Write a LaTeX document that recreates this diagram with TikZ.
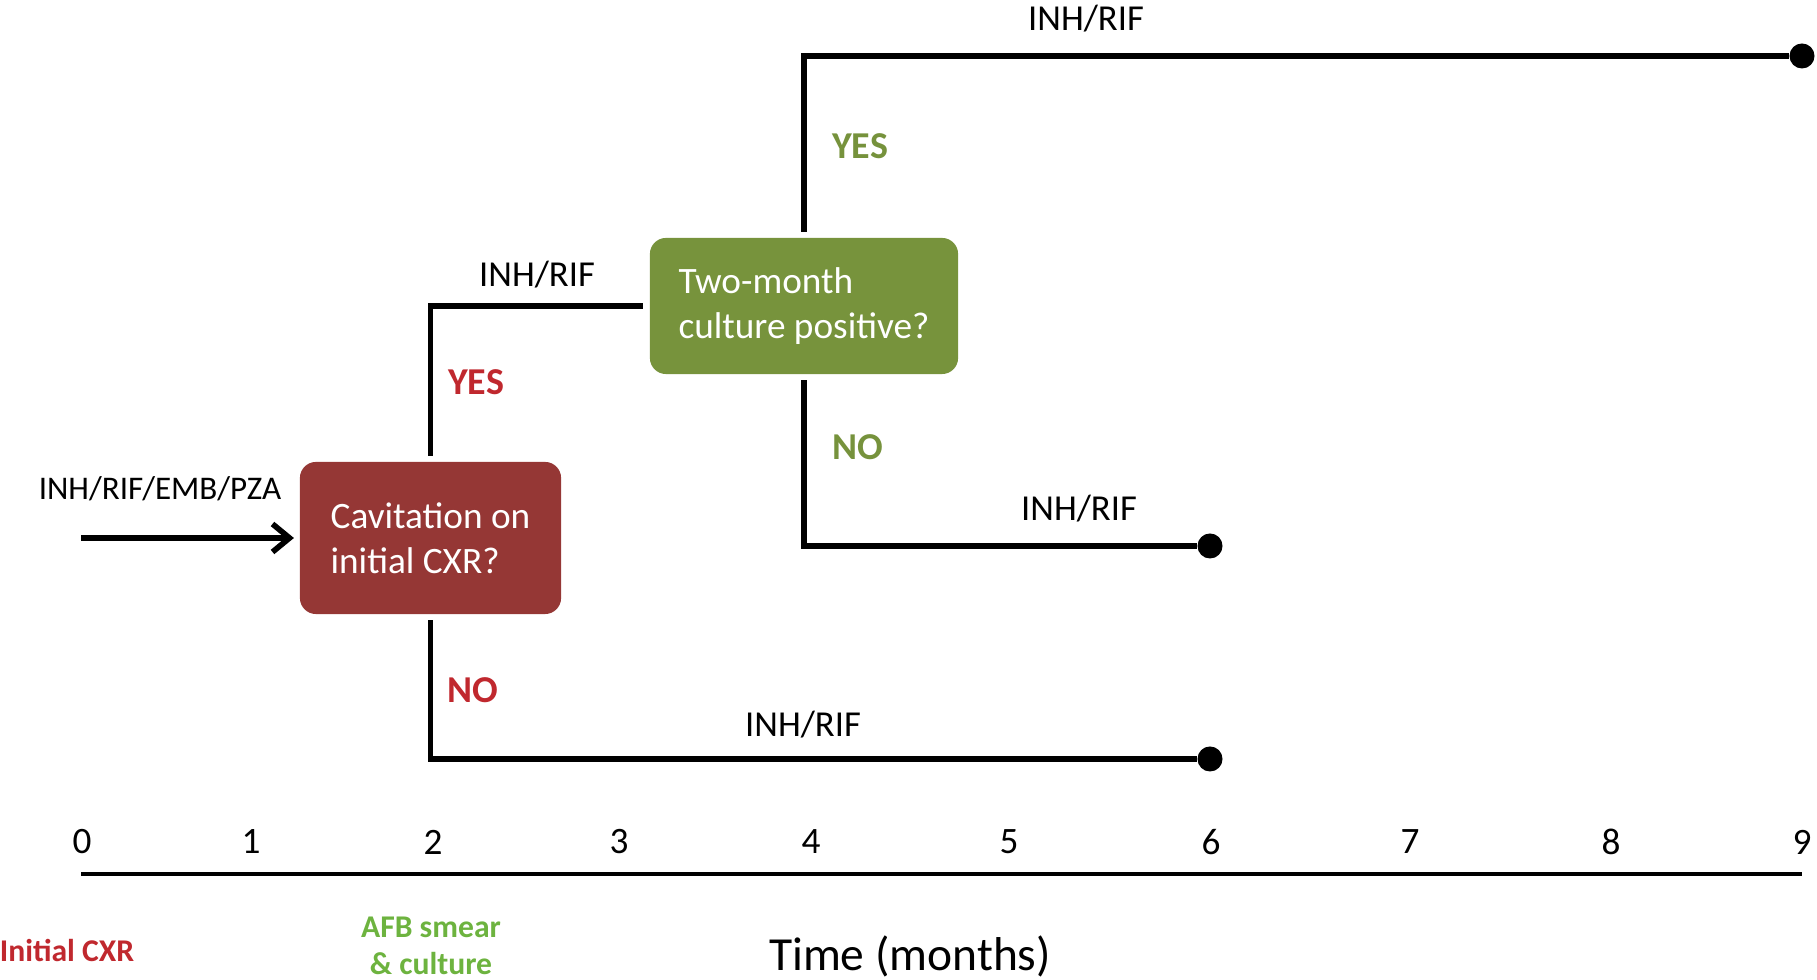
\documentclass[tikz,border=0pt]{standalone}
\usepackage{fontspec}
\setmainfont{Carlito}
\usetikzlibrary{arrows.meta,calc}
\definecolor{boxred}{HTML}{953735}
\definecolor{boxgreen}{HTML}{77933C}
\definecolor{txtred}{HTML}{C0282E}
\definecolor{txtgreen}{HTML}{76923C}
\definecolor{lightgreen}{HTML}{6DB33F}
\begin{document}
\begin{tikzpicture}[%
    x=0.01cm,y=-0.01cm,%
    branch/.style={line width=1.45pt},%
    decision/.style={rounded corners=0.16cm,text=white,align=left,%
      inner sep=0pt,font=\fontsize{10.6}{12.8}\selectfont},%
    drug/.style={font=\fontsize{10.4}{12}\selectfont},%
    answer/.style={font=\fontsize{10.8}{12}\selectfont\bfseries},%
    enddot/.style={circle,fill=black,inner sep=0pt,minimum size=0.25cm},%
    tick/.style={font=\fontsize{10.6}{12}\selectfont}%
  ]
  \useasboundingbox (0,0) rectangle (1817,980);

  %
  % Boites de decision
  %
  \node[decision,fill=boxred,minimum width=2.61cm,minimum height=1.52cm]
    (cav) at (430.5,538) {Cavitation on\\initial CXR?};
  \node[decision,fill=boxgreen,minimum width=3.08cm,minimum height=1.36cm]
    (cult) at (804,306) {Two-month\\culture positive?};

  %
  % Fins de traitement
  %
  \node[enddot] (endtop) at (1802,56) {};
  \node[enddot] (endmid) at (1210,546) {};
  \node[enddot] (endlow) at (1210,759) {};
  \coordinate (start) at (81,538);

  %
  % Branches
  %
  \draw[branch,-{Straight Barb[length=0.17cm,width=0.28cm,line width=1.6pt]},shorten >=1.5pt]
    (start) -- (cav.west);
  \draw[branch,shorten <=1.5pt,shorten >=1.8pt] (cav.north) |- (cult.west);
  \draw[branch,shorten <=1.5pt] (cav.south) |- (endlow);
  \draw[branch,shorten <=1.5pt] (cult.north) |- (endtop);
  \draw[branch,shorten <=1.5pt] (cult.south) |- (endmid);

  % Traitements
  \node[drug,font=\fontsize{9.4}{11}\selectfont] (d0) at (160,489) {INH/RIF/EMB/PZA};
  \node[drug] (d1) at (537,275) {INH/RIF};
  \node[drug] (d2) at (803,725) {INH/RIF};
  \node[drug] (d3) at (1079,509) {INH/RIF};
  \node[drug] (d4) at (1086,19) {INH/RIF};

  % Reponses
  \node[answer,text=txtred] (cavyes) at (476,382) {YES};
  \node[answer,text=txtred] (cavno) at (473,690) {NO};
  \node[answer,text=txtgreen] (cultyes) at (860,146) {YES};
  \node[answer,text=txtgreen] (cultno) at (858,447) {NO};

  %
  % Axe du temps
  %
  \coordinate (ax0) at (81,874);
  \coordinate (ax9) at (1802,874);
  \draw[line width=1.1pt] (ax0) -- (ax9);
  \foreach \m/\x in {0/82,1/251,2/433,3/619,4/811,5/1009,6/1211,7/1410,8/1611,9/1802}
    \node[tick] (t\m) at (\x,842) {\m};

  \node[font=\fontsize{9}{10.5}\selectfont\bfseries,text=txtred]
    (cxr) at (67,950) {Initial CXR};
  \node[font=\fontsize{9}{10.6}\selectfont\bfseries,text=lightgreen,align=center]
    (afb) at (431,946) {AFB smear\\\& culture};
  \node[font=\fontsize{13.5}{15}\selectfont] (time) at (910,956) {Time (months)};

\end{tikzpicture}
\end{document}
